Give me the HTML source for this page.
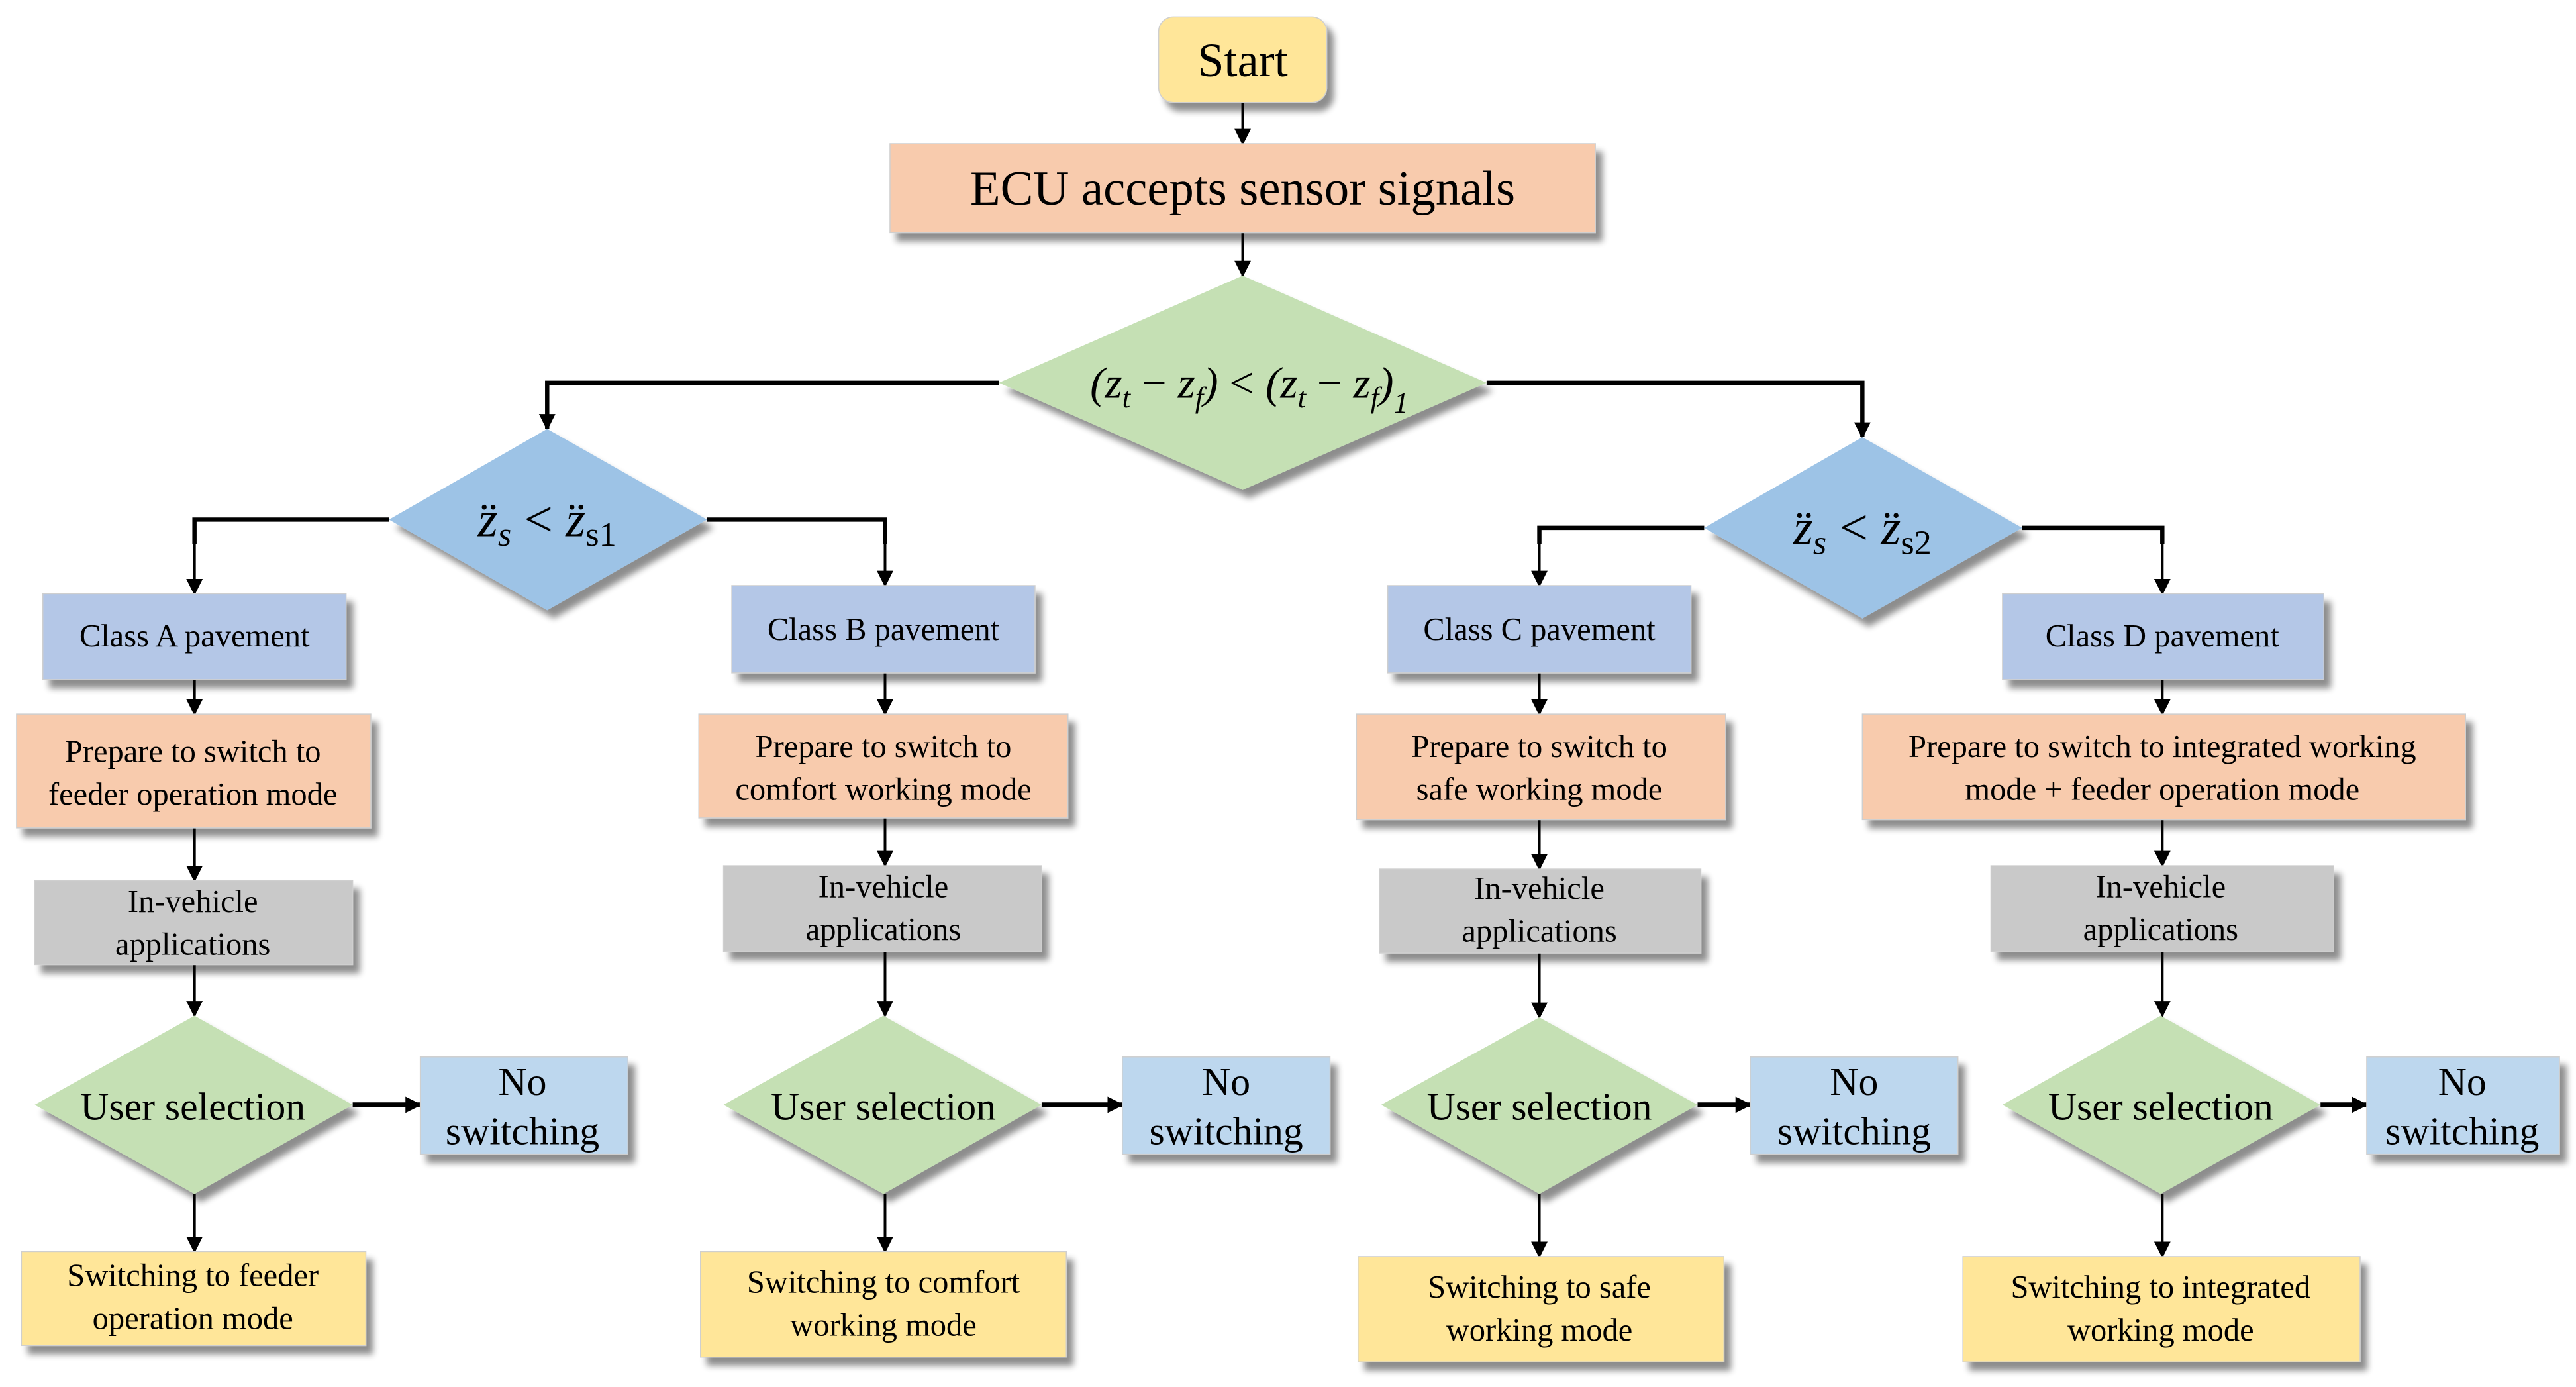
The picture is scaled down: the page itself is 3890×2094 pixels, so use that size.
<!DOCTYPE html>
<html><head><meta charset="utf-8"><style>
html,body{margin:0;padding:0;background:#fff;}
svg{display:block;}
svg, svg text{font-family:"Liberation Serif","Times New Roman","Times","Nimbus Roman","DejaVu Serif",serif;fill:#000;}
</style></head><body>
<svg width="3890" height="2094" viewBox="0 0 1563 841" xmlns="http://www.w3.org/2000/svg">
<defs>
<filter id="sh" x="-10%" y="-10%" width="130%" height="140%">
<feGaussianBlur in="SourceAlpha" stdDeviation="2"/>
<feOffset dx="4" dy="5" result="o"/>
<feComponentTransfer><feFuncA type="linear" slope="0.45"/></feComponentTransfer>
<feMerge><feMergeNode/><feMergeNode in="SourceGraphic"/></feMerge>
</filter>
<marker id="ar" markerWidth="10" markerHeight="14" refX="9" refY="5" orient="auto" markerUnits="userSpaceOnUse" viewBox="0 0 10 10">
<path d="M0,0 L10,5 L0,10 z" fill="#000"/>
</marker>
<marker id="ar2" markerWidth="10" markerHeight="12" refX="9" refY="5" orient="auto" markerUnits="userSpaceOnUse" viewBox="0 0 10 10">
<path d="M0,0 L10,5 L0,10 z" fill="#000"/>
</marker>
</defs>

<g stroke="#000" fill="none">
<line x1="754" y1="62" x2="754" y2="87" stroke-width="1.6" marker-end="url(#ar)"/>
<line x1="754" y1="141" x2="754" y2="167" stroke-width="1.6" marker-end="url(#ar)"/>
<polyline points="606,232 332,232 332,260" stroke-width="2.6" />
<polyline points="902,232 1130,232 1130,265" stroke-width="2.6"/>
<line x1="332" y1="240" x2="332" y2="260" stroke-width="1.6" marker-end="url(#ar)"/>
<line x1="1130" y1="240" x2="1130" y2="265" stroke-width="1.6" marker-end="url(#ar)"/>
<polyline points="236,315 118,315 118,330" stroke-width="2.6"/>
<line x1="118" y1="320" x2="118" y2="360" stroke-width="1.6" marker-end="url(#ar)"/>
<polyline points="429,315 537,315 537,330" stroke-width="2.6"/>
<line x1="537" y1="320" x2="537" y2="355" stroke-width="1.6" marker-end="url(#ar)"/>
<polyline points="1034,320 934,320 934,330" stroke-width="2.6"/>
<line x1="934" y1="325" x2="934" y2="355" stroke-width="1.6" marker-end="url(#ar)"/>
<polyline points="1227,320 1312,320 1312,330" stroke-width="2.6"/>
<line x1="1312" y1="325" x2="1312" y2="360" stroke-width="1.6" marker-end="url(#ar)"/>

<line x1="118" y1="412" x2="118" y2="433" stroke-width="1.6" marker-end="url(#ar)"/>
<line x1="118" y1="502" x2="118" y2="534" stroke-width="1.6" marker-end="url(#ar)"/>
<line x1="118" y1="585" x2="118" y2="616" stroke-width="1.6" marker-end="url(#ar)"/>
<line x1="118" y1="724" x2="118" y2="759" stroke-width="1.6" marker-end="url(#ar)"/>
<line x1="214" y1="670" x2="255" y2="670" stroke-width="3" marker-end="url(#ar2)"/>

<line x1="537" y1="408" x2="537" y2="433" stroke-width="1.6" marker-end="url(#ar)"/>
<line x1="537" y1="496" x2="537" y2="525" stroke-width="1.6" marker-end="url(#ar)"/>
<line x1="537" y1="577" x2="537" y2="616" stroke-width="1.6" marker-end="url(#ar)"/>
<line x1="537" y1="724" x2="537" y2="759" stroke-width="1.6" marker-end="url(#ar)"/>
<line x1="632" y1="670" x2="681" y2="670" stroke-width="3" marker-end="url(#ar2)"/>

<line x1="934" y1="408" x2="934" y2="433" stroke-width="1.6" marker-end="url(#ar)"/>
<line x1="934" y1="497" x2="934" y2="527" stroke-width="1.6" marker-end="url(#ar)"/>
<line x1="934" y1="578" x2="934" y2="617" stroke-width="1.6" marker-end="url(#ar)"/>
<line x1="934" y1="724" x2="934" y2="762" stroke-width="1.6" marker-end="url(#ar)"/>
<line x1="1030" y1="670" x2="1062" y2="670" stroke-width="3" marker-end="url(#ar2)"/>

<line x1="1312" y1="412" x2="1312" y2="433" stroke-width="1.6" marker-end="url(#ar)"/>
<line x1="1312" y1="497" x2="1312" y2="525" stroke-width="1.6" marker-end="url(#ar)"/>
<line x1="1312" y1="577" x2="1312" y2="616" stroke-width="1.6" marker-end="url(#ar)"/>
<line x1="1312" y1="724" x2="1312" y2="762" stroke-width="1.6" marker-end="url(#ar)"/>
<line x1="1408" y1="670" x2="1436" y2="670" stroke-width="3" marker-end="url(#ar2)"/>
</g>

<g filter="url(#sh)" stroke="#cfcfcf" stroke-width="0.6">
<rect x="703" y="10" width="102" height="52" rx="9" fill="#ffe699"/>
<rect x="540" y="87" width="428" height="54" fill="#f8cbad"/>
<polygon points="754,167 902,232 754,297 606,232" fill="#c5e0b4" stroke="none"/>
<polygon points="332,260 429,315 332,370 236,315" fill="#9dc3e6" stroke="none"/>
<polygon points="1130,265 1227,320 1130,375 1034,320" fill="#9dc3e6" stroke="none"/>

<rect x="26" y="360" width="184" height="52" fill="#b4c7e7"/>
<rect x="444" y="355" width="184" height="53" fill="#b4c7e7"/>
<rect x="842" y="355" width="184" height="53" fill="#b4c7e7"/>
<rect x="1215" y="360" width="195" height="52" fill="#b4c7e7"/>

<rect x="10" y="433" width="215" height="69" fill="#f8cbad"/>
<rect x="424" y="433" width="224" height="63" fill="#f8cbad"/>
<rect x="823" y="433" width="224" height="64" fill="#f8cbad"/>
<rect x="1130" y="433" width="366" height="64" fill="#f8cbad"/>

<rect x="21" y="534" width="193" height="51" fill="#c9c9c9"/>
<rect x="439" y="525" width="193" height="52" fill="#c9c9c9"/>
<rect x="837" y="527" width="195" height="51" fill="#c9c9c9"/>
<rect x="1208" y="525" width="208" height="52" fill="#c9c9c9"/>

<polygon points="118,616 214,670 118,724 21,670" fill="#c5e0b4" stroke="none"/>
<polygon points="536,616 632,670 536,724 439,670" fill="#c5e0b4" stroke="none"/>
<polygon points="934,617 1030,670 934,724 838,670" fill="#c5e0b4" stroke="none"/>
<polygon points="1311,616 1408,670 1311,724 1215,670" fill="#c5e0b4" stroke="none"/>

<rect x="255" y="641" width="126" height="59" fill="#bdd7ee"/>
<rect x="681" y="641" width="126" height="59" fill="#bdd7ee"/>
<rect x="1062" y="641" width="126" height="59" fill="#bdd7ee"/>
<rect x="1436" y="641" width="117" height="59" fill="#bdd7ee"/>

<rect x="13" y="759" width="209" height="57" fill="#ffe699"/>
<rect x="425" y="759" width="222" height="64" fill="#ffe699"/>
<rect x="824" y="762" width="222" height="64" fill="#ffe699"/>
<rect x="1191" y="762" width="241" height="64" fill="#ffe699"/>
</g>

<g text-anchor="middle">
<text x="754" y="46" font-size="29">Start</text>
<text x="754" y="124" font-size="30">ECU accepts sensor signals</text>

<text x="758" y="241" font-size="27" font-style="italic">(z<tspan font-size="18" dy="6">t</tspan><tspan dy="-6" font-style="normal"> − </tspan>z<tspan font-size="18" dy="6">f</tspan><tspan dy="-6">)</tspan><tspan font-style="normal"> &lt; </tspan>(z<tspan font-size="18" dy="6">t</tspan><tspan dy="-6" font-style="normal"> − </tspan>z<tspan font-size="18" dy="6">f</tspan><tspan dy="-6">)</tspan><tspan font-size="18" dy="9">1</tspan></text>

<text x="332" y="325" font-size="31" font-style="italic">z̈<tspan font-size="21" dy="6">s</tspan><tspan dy="-6" font-style="normal"> &lt; </tspan>z̈<tspan font-size="21" dy="6" font-style="normal">s1</tspan></text>
<text x="1130" y="330" font-size="31" font-style="italic">z̈<tspan font-size="21" dy="6">s</tspan><tspan dy="-6" font-style="normal"> &lt; </tspan>z̈<tspan font-size="21" dy="6" font-style="normal">s2</tspan></text>

<g font-size="19.5">
<text x="118" y="392">Class A pavement</text>
<text x="536" y="388">Class B pavement</text>
<text x="934" y="388">Class C pavement</text>
<text x="1312" y="392">Class D pavement</text>

<text x="117" y="462">Prepare to switch to</text>
<text x="117" y="488">feeder operation mode</text>
<text x="536" y="459">Prepare to switch to</text>
<text x="536" y="485">comfort working mode</text>
<text x="934" y="459">Prepare to switch to</text>
<text x="934" y="485">safe working mode</text>
<text x="1312" y="459">Prepare to switch to integrated working</text>
<text x="1312" y="485">mode + feeder operation mode</text>

<text x="117" y="553">In-vehicle</text>
<text x="117" y="579">applications</text>
<text x="536" y="544">In-vehicle</text>
<text x="536" y="570">applications</text>
<text x="934" y="545">In-vehicle</text>
<text x="934" y="571">applications</text>
<text x="1311" y="544">In-vehicle</text>
<text x="1311" y="570">applications</text>

<text x="117" y="780">Switching to feeder</text>
<text x="117" y="806">operation mode</text>
<text x="536" y="784">Switching to comfort</text>
<text x="536" y="810">working mode</text>
<text x="934" y="787">Switching to safe</text>
<text x="934" y="813">working mode</text>
<text x="1311" y="787">Switching to integrated</text>
<text x="1311" y="813">working mode</text>
</g>

<g font-size="24">
<text x="117" y="679">User selection</text>
<text x="536" y="679">User selection</text>
<text x="934" y="679">User selection</text>
<text x="1311" y="679">User selection</text>

<text x="317" y="664">No</text>
<text x="317" y="694">switching</text>
<text x="744" y="664">No</text>
<text x="744" y="694">switching</text>
<text x="1125" y="664">No</text>
<text x="1125" y="694">switching</text>
<text x="1494" y="664">No</text>
<text x="1494" y="694">switching</text>
</g>
</g>
</svg>
</body></html>
